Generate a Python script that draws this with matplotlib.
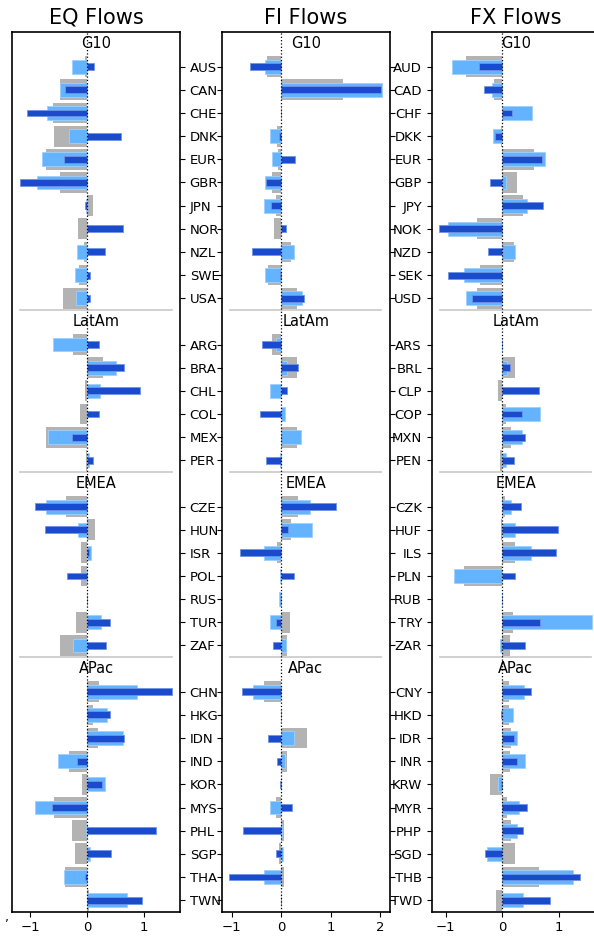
import matplotlib
matplotlib.use("Agg")
import matplotlib.pyplot as plt
import matplotlib.transforms as mtransforms

groups = ["G10", "LatAm", "EMEA", "APac"]

eq_labels = [["AUS", "CAN", "CHE", "DNK", "EUR", "GBR", "JPN", "NOR", "NZL", "SWE", "USA"],
             ["ARG", "BRA", "CHL", "COL", "MEX", "PER"],
             ["CZE", "HUN", "ISR", "POL", "RUS", "TUR", "ZAF"],
             ["CHN", "HKG", "IDN", "IND", "KOR", "MYS", "PHL", "SGP", "THA", "TWN"]]
fx_labels = [["AUD", "CAD", "CHF", "DKK", "EUR", "GBP", "JPY", "NOK", "NZD", "SEK", "USD"],
             ["ARS", "BRL", "CLP", "COP", "MXN", "PEN"],
             ["CZK", "HUF", "ILS", "PLN", "RUB", "TRY", "ZAR"],
             ["CNY", "HKD", "IDR", "INR", "KRW", "MYR", "PHP", "SGD", "THB", "TWD"]]

# EQ flows (gray = wide bar, light = medium bar, dark = thin bar)
eq_gray = [-0.04, -0.48, -0.60, -0.59, -0.73, -0.48, 0.11, -0.15, -0.06, -0.14, -0.43,
           -0.24, 0.29, -0.04, -0.12, -0.73, -0.01,
           -0.37, 0.14, -0.11, -0.11, 0.0, -0.20, -0.47,
           0.21, 0.11, 0.20, -0.31, -0.08, -0.58, -0.27, -0.21, -0.39, 0.04]
eq_light = [-0.26, -0.47, -0.71, -0.32, -0.79, -0.89, -0.02, 0.0, -0.18, -0.22, -0.19,
            -0.60, 0.52, 0.23, 0.0, -0.69, 0.03,
            -0.72, -0.16, 0.07, -0.02, 0.0, 0.24, -0.25,
            0.88, 0.35, 0.63, -0.52, 0.32, -0.91, -0.01, 0.06, -0.40, 0.70]
eq_dark = [0.13, -0.39, -1.06, 0.61, -0.41, -1.19, -0.04, 0.64, 0.32, 0.06, 0.06,
           0.22, 0.65, 0.94, 0.21, -0.26, 0.11,
           -0.91, -0.74, 0.03, -0.36, 0.0, 0.41, 0.34,
           1.51, 0.40, 0.66, -0.18, 0.26, -0.62, 1.22, 0.42, -0.03, 0.97]

# FI flows
fi_gray = [-0.28, 1.25, 0.0, -0.09, -0.07, -0.18, -0.11, -0.14, 0.19, -0.26, 0.31,
           -0.18, 0.32, 0.0, 0.0, 0.32, 0.0,
           0.34, 0.20, -0.09, 0.0, 0.0, 0.18, 0.12,
           -0.34, 0.0, 0.52, 0.11, 0.0, -0.11, 0.05, -0.05, 0.06, 0.0]
fi_light = [-0.32, 2.04, 0.0, -0.22, -0.18, -0.32, -0.34, 0.0, 0.26, -0.32, 0.42,
            -0.11, 0.12, -0.22, 0.08, 0.41, -0.03,
            0.59, 0.63, -0.34, -0.03, -0.05, -0.23, 0.10,
            -0.57, 0.0, 0.26, 0.08, 0.0, -0.22, 0.02, 0.04, -0.34, 0.0]
fi_dark = [-0.64, 2.02, 0.0, -0.05, 0.27, -0.30, -0.20, 0.09, -0.60, -0.03, 0.47,
           -0.39, 0.34, 0.12, -0.42, 0.0, -0.30,
           1.11, 0.14, -0.83, 0.25, 0.0, -0.11, -0.16,
           -0.80, 0.0, -0.26, -0.09, -0.03, 0.22, -0.78, -0.11, -1.05, 0.0]

# FX flows
fx_gray = [-0.64, -0.15, 0.0, -0.03, 0.56, 0.25, 0.36, -0.45, 0.20, -0.39, -0.44,
           0.0, 0.22, -0.08, 0.06, 0.16, -0.05,
           0.04, -0.02, 0.23, -0.67, 0.0, 0.19, 0.13,
           0.11, 0.12, 0.16, 0.14, -0.22, 0.09, 0.15, 0.22, 0.65, -0.11]
fx_light = [-0.89, -0.18, 0.53, -0.16, 0.75, 0.06, 0.44, -0.95, 0.23, -0.67, -0.64,
            0.0, 0.09, 0.0, 0.67, 0.35, 0.06,
            0.16, 0.23, 0.50, -0.86, 0.0, 1.58, -0.04,
            0.38, 0.19, 0.25, 0.39, -0.07, 0.29, 0.25, -0.27, 1.25, 0.37]
fx_dark = [-0.42, -0.33, 0.17, -0.13, 0.69, -0.22, 0.72, -1.11, -0.26, -0.95, -0.53,
           0.0, 0.13, 0.64, 0.35, 0.39, 0.21,
           0.33, 0.98, 0.94, 0.23, 0.0, 0.67, 0.40,
           0.51, -0.02, 0.20, 0.26, -0.02, 0.43, 0.37, -0.30, 1.37, 0.84]

panels = [("EQ Flows", eq_gray, eq_light, eq_dark),
          ("FI Flows", fi_gray, fi_light, fi_dark),
          ("FX Flows", fx_gray, fx_light, fx_dark)]

c_gray = "#b3b3b3"
c_light = "#63b3ff"
c_dark = "#1a4bcd"

# slot layout: one header slot per group, then its categories
pos, header_pos, sep_pos = [], [], []
slot = 0
for gi, labs in enumerate(eq_labels):
    if gi > 0:
        sep_pos.append(slot - 0.5)
    header_pos.append(slot)
    slot += 1
    for _ in labs:
        pos.append(slot)
        slot += 1
nslots = slot

W, H = 594, 939
fig = plt.figure(figsize=(W / 100, H / 100), dpi=100)
lefts = [12, 221.7, 431.7]
ax_w, top, bot = 168, 32, 911.7

flat_eq = [l for g in eq_labels for l in g]
flat_fx = [l for g in fx_labels for l in g]

for i, (title, g, lt, dk) in enumerate(panels):
    ax = fig.add_axes([lefts[i] / W, (H - bot) / H, ax_w / W, (bot - top) / H])
    ax.barh(pos, g, height=0.9, color=c_gray, zorder=2)
    ax.barh(pos, lt, height=0.6, color=c_light, edgecolor="#9fd0ff", linewidth=0.6, zorder=3)
    ax.barh(pos, dk, height=0.3, color=c_dark, edgecolor="#6f94e6", linewidth=0.6, zorder=4)
    ax.axvline(0, color="black", linestyle=":", linewidth=0.9, zorder=5)
    ax.set_ylim(nslots - 0.5, -0.5)
    for s in sep_pos:
        ax.axhline(s, xmin=0.05, xmax=0.95, color="#c8c8c8", linewidth=1.2, zorder=1)
    trans = mtransforms.blended_transform_factory(ax.transAxes, ax.transData)
    for gname, hp in zip(groups, header_pos):
        ax.text(0.5, hp, gname, transform=trans, ha="center", va="center", fontsize=10.5)
    ax.set_title(title, fontsize=15)
    ax.tick_params(axis="x", labelsize=9.5)
    ax.set_yticks(pos)
    if i == 0:
        ax.yaxis.tick_right()
        ax.set_yticklabels(flat_eq, fontsize=9.5)
    elif i == 1:
        ax.set_yticklabels([])
        ax.tick_params(axis="y", left=True, right=True, labelleft=False, labelright=False)
    else:
        ax.set_yticklabels(flat_fx, fontsize=9.5)
    for sp in ax.spines.values():
        sp.set_linewidth(1.2)

fig.text(5 / W, 1 - 918 / H, ",", fontsize=9, ha="left", va="center")
fig.savefig("out.png", dpi=100)
